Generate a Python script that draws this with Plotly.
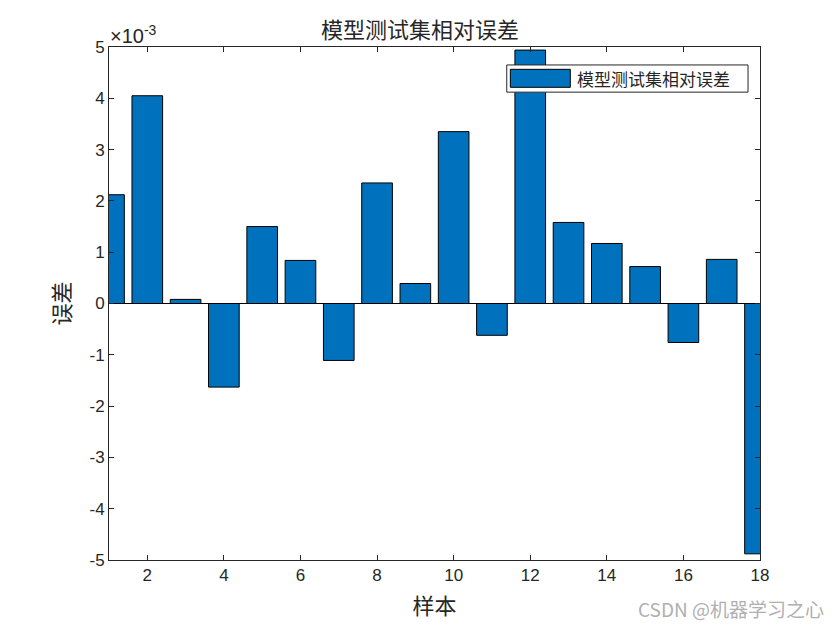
import plotly.graph_objects as go

samples = list(range(1, 19))
errors = [0.00212, 0.00405, 0.00008, -0.00163, 0.00150, 0.00084, -0.00111, 0.00235,
          0.00039, 0.00335, -0.00062, 0.00494, 0.00158, 0.00117, 0.00072, -0.00076,
          0.00086, -0.00488]
ytick_vals = [-0.005, -0.004, -0.003, -0.002, -0.001, 0, 0.001, 0.002, 0.003, 0.004, 0.005]
ytick_text = ["-5", "-4", "-3", "-2", "-1", "0", "1", "2", "3", "4", "5"]
xtick_vals = [2, 4, 6, 8, 10, 12, 14, 16, 18]
series_name = "模型测试集相对误差"

cjk = "Noto Sans CJK SC"
num_font = "Liberation Sans"
bar_color = "#0072BD"
ink = "#262626"

fig = go.Figure()
fig.add_trace(go.Bar(
    x=samples, y=errors, width=0.8,
    marker=dict(color=bar_color, line=dict(color="black", width=1)),
    name=series_name, showlegend=False,
))

fig.update_layout(
    width=840, height=630,
    margin=dict(l=109, r=80, t=47, b=70),
    paper_bgcolor="white", plot_bgcolor="white",
    title=dict(text=series_name, x=0.5, xanchor="center", y=1 - 30/630, yanchor="middle",
               font=dict(family=cjk, size=22, color=ink)),
    showlegend=False,
)
fig.update_xaxes(
    range=[1, 18], tickvals=xtick_vals, ticks="inside", ticklen=5, tickcolor=ink,
    showline=True, linecolor=ink, linewidth=1, mirror="ticks", showgrid=False, zeroline=False,
    tickfont=dict(family=num_font, size=17, color=ink),
    title=dict(text="样本", font=dict(family=cjk, size=22, color=ink), standoff=14),
)
fig.update_yaxes(
    range=[-0.005, 0.005], tickvals=ytick_vals, ticktext=ytick_text, ticks="inside", ticklen=5,
    tickcolor=ink,
    showline=True, linecolor=ink, linewidth=1, mirror="ticks", showgrid=False,
    zeroline=True, zerolinecolor="black", zerolinewidth=1,
    tickfont=dict(family=num_font, size=17, color=ink),
    title=dict(text="误差", font=dict(family=cjk, size=22, color=ink), standoff=12),
)
# exponent label
fig.add_annotation(text="×10<sup>-3</sup>", xref="paper", yref="paper", x=0, y=1,
                   xanchor="left", yanchor="bottom", showarrow=False, xshift=-1, yshift=-2,
                   font=dict(family=num_font, size=20, color=ink))
# custom MATLAB-style legend
fig.add_shape(type="rect", xref="paper", yref="paper", x0=0.611, x1=0.9816, y0=0.912, y1=0.965,
              line=dict(color=ink, width=1), fillcolor="white", layer="above")
fig.add_shape(type="rect", xref="paper", yref="paper", x0=0.6165, x1=0.7086, y0=0.9214, y1=0.9565,
              line=dict(color="black", width=1), fillcolor=bar_color, layer="above")
fig.add_annotation(text=series_name, xref="paper", yref="paper", x=0.7155, y=0.939,
                   xanchor="left", yanchor="middle", showarrow=False,
                   font=dict(family=cjk, size=17, color=ink))
# watermark
fig.add_annotation(text="CSDN @机器学习之心", xref="paper", yref="paper", x=1 + 66/651, y=-(608 - 560)/513,
                   xanchor="right", yanchor="middle", showarrow=False,
                   font=dict(family=cjk, size=19, color="#b0b0b0"))

fig.write_html("out.html")
